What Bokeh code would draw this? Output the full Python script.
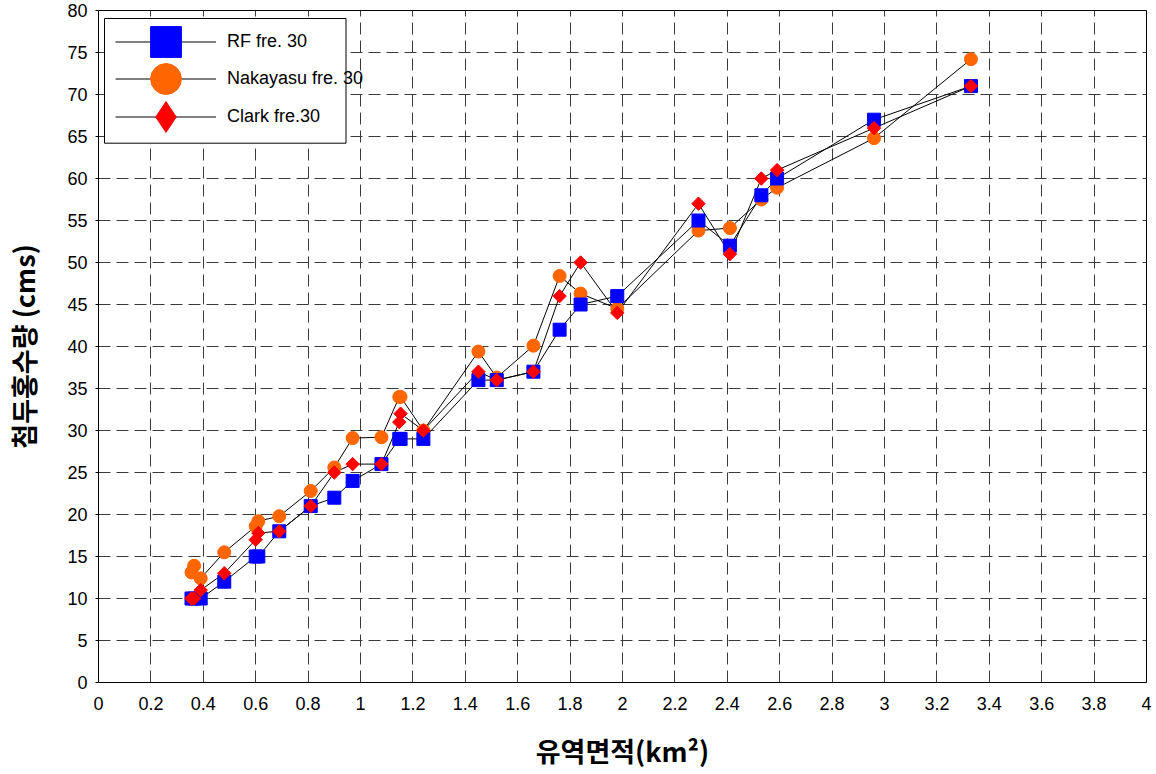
import math
from bokeh.plotting import figure
from bokeh.models import (Range1d, FixedTicker, Legend, LegendItem, BoxAnnotation,
                          CustomJSTickFormatter)
from bokeh.embed import file_html
from bokeh.resources import INLINE

# ---- data ----
x_area = [0.355, 0.365, 0.39, 0.48, 0.60, 0.61, 0.69, 0.81, 0.90, 0.97, 1.08, 1.148, 1.153,
          1.24, 1.45, 1.52, 1.66, 1.76, 1.84, 1.98, 2.29, 2.41, 2.53, 2.59, 2.96, 3.33]
rf_peak = [10, 10, 10, 12, 15, 15, 18, 21, 22, 24, 26, 29, 29,
           29, 36, 36, 37, 42, 45, 46, 55, 52, 58, 60, 67, 71]
nakayasu_peak = [13.1, 13.9, 12.4, 15.5, 18.6, 19.2, 19.8, 22.8, 25.6, 29.1, 29.2, 34, 34,
                 30, 39.4, 36.3, 40.1, 48.4, 46.3, 44.5, 53.8, 54.1, 57.5, 58.9, 64.8, 74.2]
clark_peak = [10, 10, 11, 13, 17, 17.8, 18, 21, 25, 26, 26, 31, 32,
              30, 37, 36, 37, 46, 50, 44, 57, 51, 60, 61, 66, 71]

series_labels = ["RF fre. 30", "Nakayasu fre. 30", "Clark fre.30"]

x_ticks = [0, 0.2, 0.4, 0.6, 0.8, 1, 1.2, 1.4, 1.6, 1.8, 2, 2.2, 2.4, 2.6, 2.8, 3,
           3.2, 3.4, 3.6, 3.8, 4]
x_tick_labels = ["0", "0.2", "0.4", "0.6", "0.8", "1", "1.2", "1.4", "1.6", "1.8", "2",
                 "2.2", "2.4", "2.6", "2.8", "3", "3.2", "3.4", "3.6", "3.8", "4"]
y_ticks = [0, 5, 10, 15, 20, 25, 30, 35, 40, 45, 50, 55, 60, 65, 70, 75, 80]

x_title = "유역면적(km²)"
y_title = "첨두홍수량 (cms)"

# ---- figure ----
p = figure(width=1156, height=774, x_range=Range1d(0, 4), y_range=Range1d(0, 80),
           output_backend="svg", toolbar_location=None,
           min_border_left=98, min_border_right=10, min_border_top=10, min_border_bottom=92)
p.background_fill_color = "white"
p.border_fill_color = "white"
p.outline_line_color = "black"
p.outline_line_width = 1
p.outline_line_alpha = 1

p.xaxis.ticker = FixedTicker(ticks=x_ticks)
p.xaxis.formatter = CustomJSTickFormatter(
    args=dict(tvals=x_ticks, tlabels=x_tick_labels),
    code="const i = tvals.findIndex(t => Math.abs(t - tick) < 1e-9); return i >= 0 ? tlabels[i] : '';")
p.yaxis.ticker = FixedTicker(ticks=y_ticks)

for ax in (p.xaxis[0], p.yaxis[0]):
    ax.axis_line_color = "black"
    ax.major_tick_line_color = "black"
    ax.minor_tick_line_color = None
    ax.major_label_text_font = "Liberation Sans"
    ax.major_label_text_font_size = "18px"
    ax.major_label_text_color = "black"
    ax.axis_label_text_font = "Noto Sans CJK KR"
    ax.axis_label_text_font_size = "27px"
    ax.axis_label_text_font_style = "bold"
    ax.axis_label_text_color = "black"

p.xaxis.major_tick_in = 0
p.xaxis.major_tick_out = 0
p.xaxis.major_label_standoff = 14
p.xaxis.axis_label = x_title
p.xaxis.axis_label_standoff = 18

p.yaxis.major_tick_in = 0
p.yaxis.major_tick_out = 3
p.yaxis.major_label_standoff = 8
p.yaxis.axis_label = y_title
p.yaxis.axis_label_standoff = 21

for g in (p.xgrid[0], p.ygrid[0]):
    g.grid_line_color = "#3a3a3a"
    g.grid_line_width = 1
    g.grid_line_dash = "12 6"

# lines first
line_rf = p.line(x_area, rf_peak, line_color="black", line_width=1)
line_nk = p.line(x_area, nakayasu_peak, line_color="black", line_width=1)
line_cl = p.line(x_area, clark_peak, line_color="black", line_width=1)

# markers: orange below blue below red
mk_nk = p.scatter(x_area, nakayasu_peak, marker="circle", size=13,
                  fill_color="#FF6600", line_color="#FF6600")
mk_rf = p.scatter(x_area, rf_peak, marker="square", size=13,
                  fill_color="#0000FF", line_color="#0000FF")
# diamond symbol used for the legend key (fully covered by the rotated squares below)
mk_cl_key = p.scatter(x_area, clark_peak, marker="diamond", size=12,
                      fill_color="#FF0000", line_color="#FF0000")
mk_cl = p.scatter(x_area, clark_peak, marker="square", size=9.5, angle=math.pi / 4,
                  fill_color="#FF0000", line_color="#FF0000")

# legend frame
box = BoxAnnotation(left=6, right=247.5, top=664, bottom=539.3,
                    left_units="screen", right_units="screen",
                    top_units="screen", bottom_units="screen",
                    fill_color="white", fill_alpha=1,
                    line_color="black", line_width=1, line_alpha=1)
p.add_layout(box)


def make_legend(label, renderers, gh, loc):
    leg = Legend(items=[LegendItem(label=label, renderers=renderers)],
                 location=loc, padding=0, margin=0, spacing=0,
                 glyph_width=101, glyph_height=gh, label_height=gh,
                 label_standoff=11, label_text_font="Liberation Sans",
                 label_text_font_size="18px", label_text_color="black",
                 border_line_alpha=0, background_fill_alpha=0)
    p.add_layout(leg, "center")


make_legend(series_labels[0], [line_rf, mk_rf], 77, (17, 602))
make_legend(series_labels[1], [line_nk, mk_nk], 77, (17, 565))
make_legend(series_labels[2], [line_cl, mk_cl_key], 77, (17, 527))

open("out.html", "w").write(file_html(p, INLINE))
